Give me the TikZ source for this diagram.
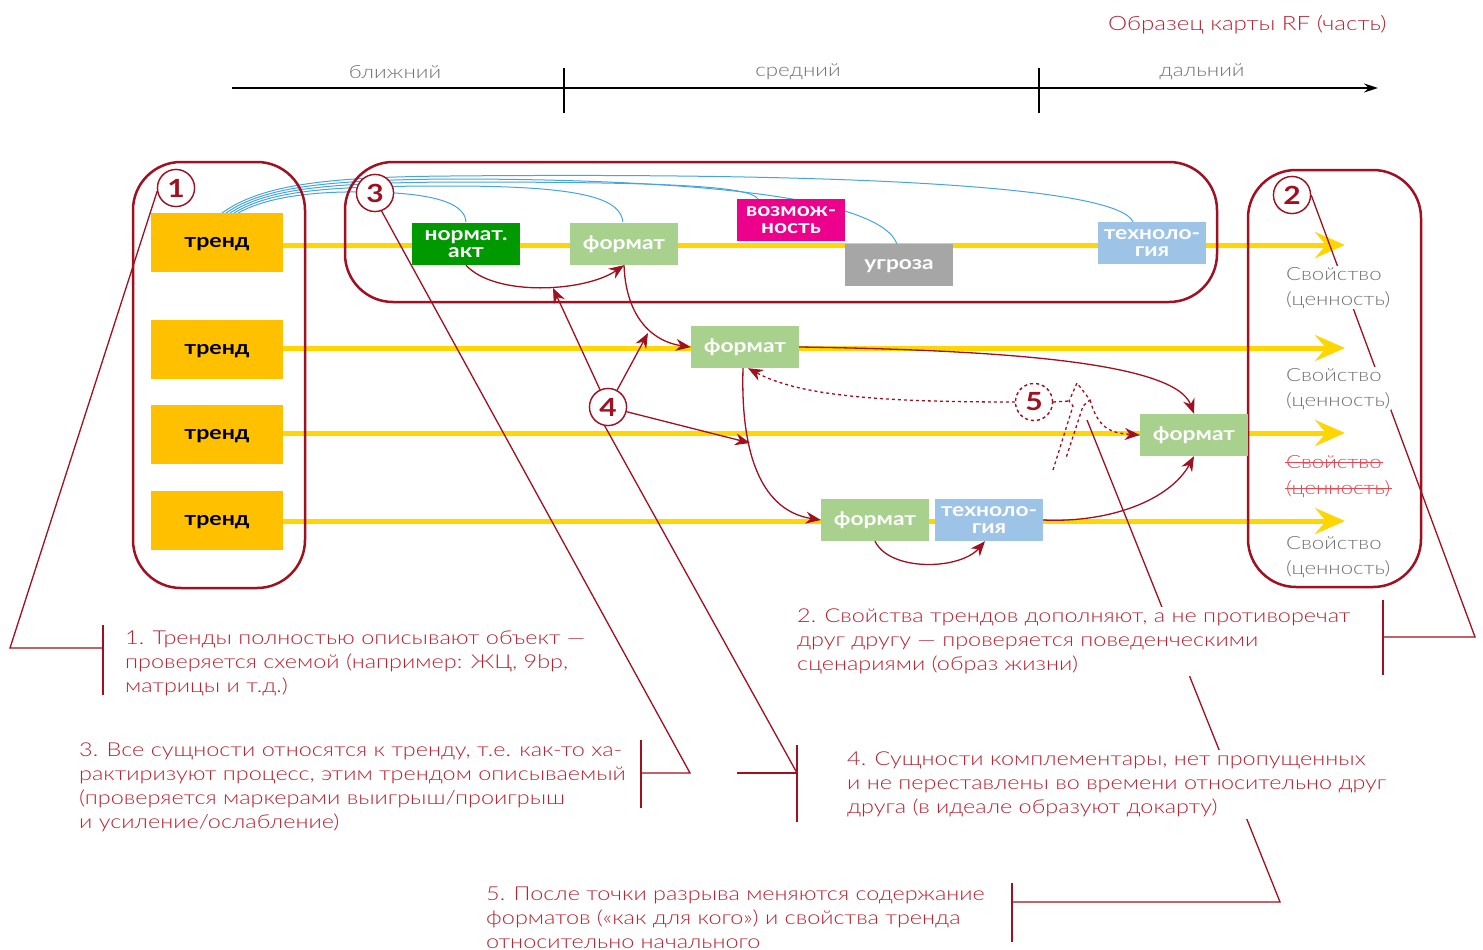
\documentclass[tikz,border=0pt]{standalone}
\usepackage{fontspec}
\setmainfont{Lato}[FakeStretch=1.2]
\newfontfamily\lightfont{Lato Light}[FakeStretch=1.22]
\usetikzlibrary{arrows.meta}
\definecolor{boxred}{RGB}{160,16,32}
\definecolor{textred}{RGB}{186,34,50}
\definecolor{strikered}{RGB}{232,70,82}
\definecolor{ylwline}{RGB}{255,214,0}
\definecolor{trendfill}{RGB}{255,192,0}
\definecolor{greendark}{RGB}{0,153,0}
\definecolor{greenlight}{RGB}{169,209,142}
\definecolor{magentaent}{RGB}{236,0,140}
\definecolor{grayent}{RGB}{166,166,166}
\definecolor{blueent}{RGB}{157,195,230}
\definecolor{bluecurve}{RGB}{70,165,220}
\definecolor{graytext}{RGB}{115,115,115}
\begin{document}
\begin{tikzpicture}[x=1pt,y=-1pt,
  ylw/.style={line width=5pt, draw=ylwline, -{Stealth[length=30pt,width=26pt,inset=11pt]}},
  trend/.style={fill=trendfill, minimum width=132pt, minimum height=59pt, inner sep=0pt, text height=9pt, text depth=-1pt, font=\bfseries\fontsize{19.3}{19}\selectfont, text=black},
  ent/.style={minimum width=108pt, minimum height=42pt, inner sep=0pt, align=center, text=white, font=\bfseries\fontsize{19}{17}\selectfont},
  bigbox/.style={draw=boxred, line width=2.5pt, rounded corners=48pt},
  num/.style={circle, draw=boxred, line width=1.3pt, fill=white, minimum size=37pt, inner sep=0pt, text=boxred, font=\bfseries\fontsize{25}{25}\selectfont},
  callout/.style={draw=boxred, line width=1.3pt},
  rarrow/.style={draw=boxred, line width=1.3pt, -{Stealth[length=15pt,width=12pt]}},
  bluec/.style={draw=bluecurve, line width=1pt},
  para/.style={anchor=north west, align=left, text=textred, fill=white, inner sep=2pt, font=\lightfont\fontsize{19.2}{24}\selectfont},
  prop/.style={anchor=north west, align=left, text=graytext, fill=white, inner sep=1pt, font=\lightfont\fontsize{18.2}{25}\selectfont},
  lbl/.style={text=graytext, font=\lightfont\fontsize{18.3}{19}\selectfont}
]
\useasboundingbox[fill=white] (0,0) rectangle (1483,950);

% title and timeline
\node[anchor=east, text=textred, font=\lightfont\fontsize{19.8}{20}\selectfont] (title) at (1390,25) {Образец карты RF (часть)};
\coordinate (ta) at (232,88);
\coordinate (tb) at (1378,88);
\draw[line width=1.3pt, -{Stealth[length=14pt,width=9pt]}] (ta) -- (tb);
\coordinate (tk1a) at (564,68); \coordinate (tk1b) at (564,113);
\coordinate (tk2a) at (1039,68); \coordinate (tk2b) at (1039,113);
\draw[line width=2.2pt] (tk1a) -- (tk1b);
\draw[line width=2.2pt] (tk2a) -- (tk2b);
\node[lbl] (near) at (395,72) {ближний};
\node[lbl] (mid) at (798,72) {средний};
\node[lbl] (far) at (1202,72) {дальний};

% yellow trend lines
\coordinate (y1a) at (283,245); \coordinate (y1b) at (1345,245);
\coordinate (y2a) at (283,348); \coordinate (y2b) at (1345,348);
\coordinate (y3a) at (283,433); \coordinate (y3b) at (1345,433);
\coordinate (y4a) at (283,521); \coordinate (y4b) at (1345,521);
\draw[ylw] (y1a) -- (y1b);
\draw[ylw] (y2a) -- (y2b);
\draw[ylw] (y3a) -- (y3b);
\draw[ylw] (y4a) -- (y4b);

% blue curves
\draw[bluec] (222,213) .. controls (262,184) and (330,177) .. (450,176) .. controls (900,172) and (1120,190) .. (1133,222);
\draw[bluec] (226,213) .. controls (265,186) and (330,180) .. (450,179) .. controls (700,179) and (880,198) .. (897,244);
\draw[bluec] (230,213) .. controls (268,188) and (330,183) .. (450,182) .. controls (650,182) and (750,185) .. (758,199);
\draw[bluec] (234,213) .. controls (272,190) and (330,186) .. (450,186) .. controls (590,186) and (620,200) .. (623,222);
\draw[bluec] (238,213) .. controls (276,192) and (340,190) .. (395,193) .. controls (440,196) and (465,205) .. (466,222);

% big boxes
\draw[bigbox] (133,162) rectangle (305,588);
\draw[bigbox] (345,162) rectangle (1217,302);
\draw[bigbox] (1248,170) rectangle (1421,587);

% callout coordinates
\coordinate (k1) at (10,648); \coordinate (k1b) at (103,648);
\coordinate (b1t) at (103,625); \coordinate (b1b) at (103,695);
\coordinate (k2) at (1475,637); \coordinate (k2b) at (1383,637);
\coordinate (b2t) at (1383,600); \coordinate (b2b) at (1383,675);
\coordinate (k3) at (690,773); \coordinate (k3b) at (641,773);
\coordinate (b3t) at (641,740); \coordinate (b3b) at (641,808);
\coordinate (k4) at (797,773); \coordinate (k4b) at (737,773);
\coordinate (b4t) at (797,745); \coordinate (b4b) at (797,822);
\coordinate (k5s) at (1087,420); \coordinate (k5) at (1280,902); \coordinate (k5b) at (1012,902);
\coordinate (b5t) at (1012,883); \coordinate (b5b) at (1012,942);

% trend boxes
\node[trend] (t1) at (217,242.5) {тренд};
\node[trend] (t2) at (217,349.5) {тренд};
\node[trend] (t3) at (217,434.5) {тренд};
\node[trend] (t4) at (217,520.5) {тренд};

% entities
\node[ent, fill=greendark] (n1) at (466,244) {нормат.\\акт};
\node[ent, fill=greenlight] (f1) at (624,244) {формат};
\node[ent, fill=magentaent] (v1) at (791,220) {возмож-\\ность};
\node[ent, fill=grayent, text depth=0pt] (u1) at (899,265) {угроза};
\node[ent, fill=blueent] (te1) at (1152,243) {техноло-\\гия};
\node[ent, fill=greenlight] (f2) at (745,347) {формат};
\node[ent, fill=greenlight] (f3) at (1194,435) {формат};
\node[ent, fill=greenlight] (f4) at (875,520) {формат};
\node[ent, fill=blueent] (te4) at (989,520) {техноло-\\гия};

% circles
\node[num] (c1) at (176,188) {1};
\node[num] (c2) at (1292,195) {2};
\node[num] (c3) at (375,193) {3};
\node[num] (c4) at (608,407) {4};
\node[num, dashed] (c5) at (1034,402) {5};

% callout lines
\draw[callout] (c1.190) -- (k1) -- (k1b);
\draw[callout] (b1t) -- (b1b);
\draw[callout] (c2.east) -- (k2) -- (k2b);
\draw[callout] (b2t) -- (b2b);
\draw[callout] (c3.-70) -- (k3) -- (k3b);
\draw[callout] (b3t) -- (b3b);
\draw[callout] (c4.-100) -- (k4);
\draw[callout] (k4b) -- (k4);
\draw[callout] (b4t) -- (b4b);
\draw[callout] (k5s) -- (k5) -- (k5b);
\draw[callout] (b5t) -- (b5b);

% property labels
\node[prop] (p1) at (1285,266) {Свойство\\(ценность)};
\node[prop] (p2) at (1285,367) {Свойство\\(ценность)};
\node[prop, text=strikered] (p3a) at (1285,454) {Свойство};
\node[prop, text=strikered] (p3b) at (1285,479) {(ценность)};
\draw[strikered, line width=1pt] ([yshift=5.5pt]p3a.base west) -- ([yshift=5.5pt]p3a.base east);
\draw[strikered, line width=1pt] ([yshift=5.5pt]p3b.base west) -- ([yshift=5.5pt]p3b.base east);
\node[prop] (p4) at (1285,535) {Свойство\\(ценность)};

% paragraphs
\node[para] (txt1) at (123,629) {1. Тренды полностью описывают объект —\\проверяется схемой (например: ЖЦ, 9bp,\\матрицы и т.д.)};
\node[para] (txt2) at (795,607) {2. Свойства трендов дополняют, а не противоречат\\друг другу — проверяется поведенческими\\сценариями (образ жизни)};
\node[para] (txt3) at (77,741) {3. Все сущности относятся к тренду, т.е. как-то ха-\\рактиризуют процесс, этим трендом описываемый\\(проверяется маркерами выигрыш/проигрыш\\и усиление/ослабление)};
\node[para] (txt4) at (845,750) {4. Сущности комплементары, нет пропущенных\\и не переставлены во времени относительно друг\\друга (в идеале образуют докарту)};
\node[para] (txt5) at (484,885) {5. После точки разрыва меняются содержание\\форматов («как для кого») и свойства тренда\\относительно начального};

% redraw circles on top
\node[num] at (c1) {1};
\node[num] at (c2) {2};
\node[num] at (c3) {3};
\node[num] at (c4) {4};
\node[num, dashed] at (c5) {5};

% red relation arrows
\coordinate (a41) at (553,288);
\coordinate (a42) at (648,333);
\coordinate (a43) at (750,443);
\draw[rarrow] (n1.south) .. controls (495,297) and (585,292) .. (f1.south);
\draw[rarrow] (f1.south) .. controls (626,320) and (655,342) .. (f2.west);
\draw[rarrow] (f2.east) .. controls (1000,350) and (1175,362) .. (f3.north);
\draw[rarrow] ([xshift=-2pt]f2.south) .. controls (740,470) and (770,512) .. (f4.west);
\draw[rarrow] (f4.south) .. controls (890,572) and (960,570) .. ([xshift=-4pt]te4.south);
\draw[rarrow] (te4.east) .. controls (1110,523) and (1170,500) .. (f3.south);
\draw[rarrow] (c4) -- (a41);
\draw[rarrow] (c4) -- (a42);
\draw[rarrow] (c4) -- (a43);

% dashed break (5)
\coordinate (z1) at (1069,401);
\coordinate (z2) at (1073,406);
\coordinate (z3) at (1053,470);
\coordinate (z4) at (1077,383);
\coordinate (z5) at (1090,400);
\coordinate (z6) at (1083,406);
\coordinate (z7) at (1066,458);
\draw[rarrow, dashed] (c5.west) .. controls (880,402) and (800,396) .. ([xshift=3pt]f2.south);
\draw[callout, dashed] (c5.east) -- (z1);
\draw[callout, dashed] (z3) -- (z2) -- (z1) -- (z4) -- (z5) -- (z6) -- (z7);
\draw[rarrow, dashed] (z5) .. controls (1098,428) and (1110,433) .. (f3.west);
\end{tikzpicture}
\end{document}
